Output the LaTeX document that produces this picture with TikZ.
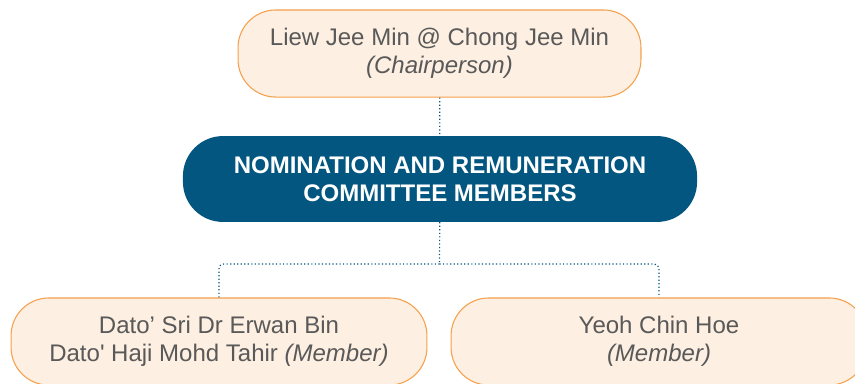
\documentclass[tikz,border=0pt]{standalone}
\usepackage{fontspec}
\setmainfont{Liberation Sans}[Ligatures=TeXOff]
\usepackage{tikz}
\usetikzlibrary{calc, positioning}
\usepackage{xcolor}
\definecolor{peach}{HTML}{FDEFE2}
\definecolor{peachline}{HTML}{F5A04C}
\definecolor{navy}{HTML}{03567F}
\definecolor{greytext}{HTML}{595959}

\begin{document}
\begin{tikzpicture}[x=0.85pt, y=-0.85pt,
    member/.style={draw=peachline, fill=peach, line width=0.9pt, rounded corners=32pt,
      text=greytext, align=center, inner sep=0pt,
      font=\fontsize{20.4}{23.8}\selectfont},
    board/.style={fill=navy, rounded corners=34pt, text=white, align=center,
      inner sep=0pt, font=\bfseries\fontsize{20.4}{23.8}\selectfont},
    link/.style={draw=navy, line width=1pt, dotted}]
    \useasboundingbox (0,0) rectangle (855,383);
    \node[member, minimum width=342.5pt, minimum height=74pt] (chair) at (439.5,53.5)
      {Liew Jee Min @ Chong Jee Min\\\textit{(Chairperson)}};
    \node[board, minimum width=437pt, minimum height=73pt] (nrc) at (440,179)
      {NOMINATION AND REMUNERATION\\COMMITTEE MEMBERS};
    \node[member, minimum width=353.5pt, minimum height=74pt] (erwan) at (219,341.5)
      {Dato’ Sri Dr Erwan Bin\\Dato' Haji Mohd Tahir \textit{(Member)}};
    \node[member, minimum width=353.5pt, minimum height=74pt] (yeoh) at (659,341.5)
      {Yeoh Chin Hoe\\\textit{(Member)}};
    \coordinate (split) at (439.5,264);
    \draw[link] (chair) -- (nrc);
    \draw[link] (nrc) -- (split);
    \draw[link, rounded corners=4pt] (split) -| (erwan.north);
    \draw[link, rounded corners=4pt] (split) -| (yeoh.north);
  \end{tikzpicture}
\end{document}
